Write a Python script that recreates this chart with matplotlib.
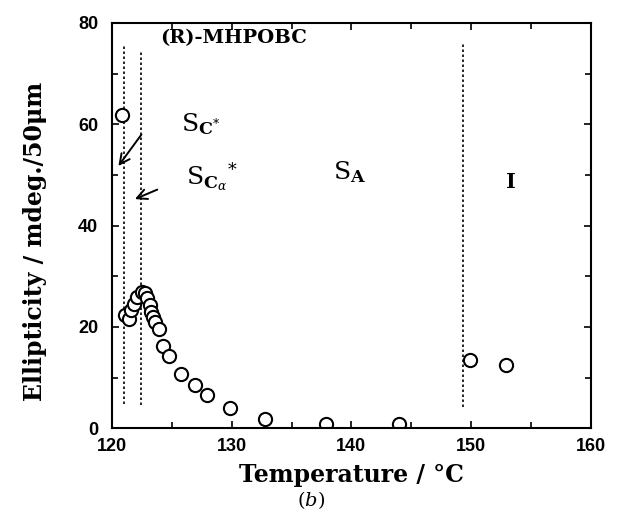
import numpy as np
import matplotlib
matplotlib.use("Agg")
import matplotlib.pyplot as plt

plt.rcParams['mathtext.fontset'] = 'custom'
plt.rcParams['mathtext.rm'] = 'DejaVu Serif'
plt.rcParams['mathtext.bf'] = 'DejaVu Serif:bold'
plt.rcParams['mathtext.it'] = 'DejaVu Serif:italic'

# Ellipticity vs temperature, (R)-MHPOBC
temp = [120.8, 121.1, 121.4, 121.6, 121.8, 122.1, 122.5, 122.75, 122.9, 123.2,
        123.3, 123.4, 123.6, 123.9, 124.3, 124.8, 125.8, 126.9, 127.9, 129.9,
        132.8, 137.9, 144.0, 149.9, 152.9]
ellip = [61.8, 22.3, 21.6, 23.3, 24.6, 25.9, 26.9, 26.6, 25.6, 24.3,
         22.9, 22.0, 21.0, 19.5, 16.2, 14.2, 10.7, 8.5, 6.5, 3.9,
         1.9, 0.9, 0.9, 13.4, 12.4]

# phase boundaries (dotted lines)
bound_x = [121.0, 122.4, 149.3]
bound_top = [75.5, 74.2, 76.0]
bound_bot = [4.7, 4.5, 4.1]

fig = plt.figure(figsize=(6.22, 5.19), dpi=100)
ax = fig.add_axes([0.180, 0.175, 0.770, 0.781])

for bx, bt, bb in zip(bound_x, bound_top, bound_bot):
    ax.plot([bx, bx], [bb, bt], color='black', ls=(0, (1.5, 1.5)), lw=1.2)

ax.plot(temp, ellip, 'o', ms=9.5, mfc='white', mec='black', mew=1.5)

serif = 'DejaVu Serif'
ax.text(124.0, 77, '(R)-MHPOBC', fontfamily=serif, fontweight='bold',
        fontsize=14, va='center', ha='left')
ax.text(125.8, 60, r'$\mathrm{S}_{\mathbf{C}^{*}}$', fontsize=18,
        va='center', ha='left')
ax.text(126.2, 49.5, r'$\mathrm{S}_{\mathbf{C}_{\alpha}}{}^{*}$', fontsize=18,
        va='center', ha='left')
ax.text(138.5, 50.5, r'$\mathrm{S}_{\mathbf{A}}$', fontsize=18,
        va='center', ha='left')
ax.text(153.3, 48.5, 'I', fontfamily=serif, fontweight='bold', fontsize=15,
        va='center', ha='center')

ax.annotate('', xy=(120.4, 51.3), xytext=(122.6, 58.4),
            arrowprops=dict(arrowstyle='->', color='black', lw=1.4,
                            mutation_scale=18))
ax.annotate('', xy=(121.7, 45.0), xytext=(124.0, 47.3),
            arrowprops=dict(arrowstyle='->', color='black', lw=1.4,
                            mutation_scale=18))

ax.set_xlim(120, 160)
ax.set_ylim(0, 80)
ax.set_xticks([120, 130, 140, 150, 160])
ax.set_xticks(np.arange(120, 161, 5), minor=True)
ax.set_yticks([0, 20, 40, 60, 80])
ax.set_yticks(np.arange(0, 81, 10), minor=True)
ax.tick_params(which='both', direction='in', top=True, right=True,
               length=5, width=1.2)
ax.tick_params(which='minor', length=4)
ax.tick_params(axis='x', which='major', pad=7)
ax.tick_params(axis='y', which='major', pad=10)
for lab in ax.get_xticklabels() + ax.get_yticklabels():
    lab.set_fontfamily(['Liberation Sans Narrow', 'Liberation Sans'])
    lab.set_fontweight('bold')
    lab.set_fontsize(13)
for sp in ax.spines.values():
    sp.set_linewidth(1.5)

ax.set_xlabel('Temperature / °C', fontfamily=serif, fontweight='bold',
              fontsize=17, labelpad=6)
ax.set_ylabel('Ellipticity / mdeg./50μm', fontfamily=serif, fontweight='bold',
              fontsize=17)
ax.yaxis.set_label_coords(-0.135, 0.46)

fig.text(0.5, 0.037, r'$(b)$', fontsize=14, ha='center', va='center')

fig.savefig('out.png', dpi=100)
